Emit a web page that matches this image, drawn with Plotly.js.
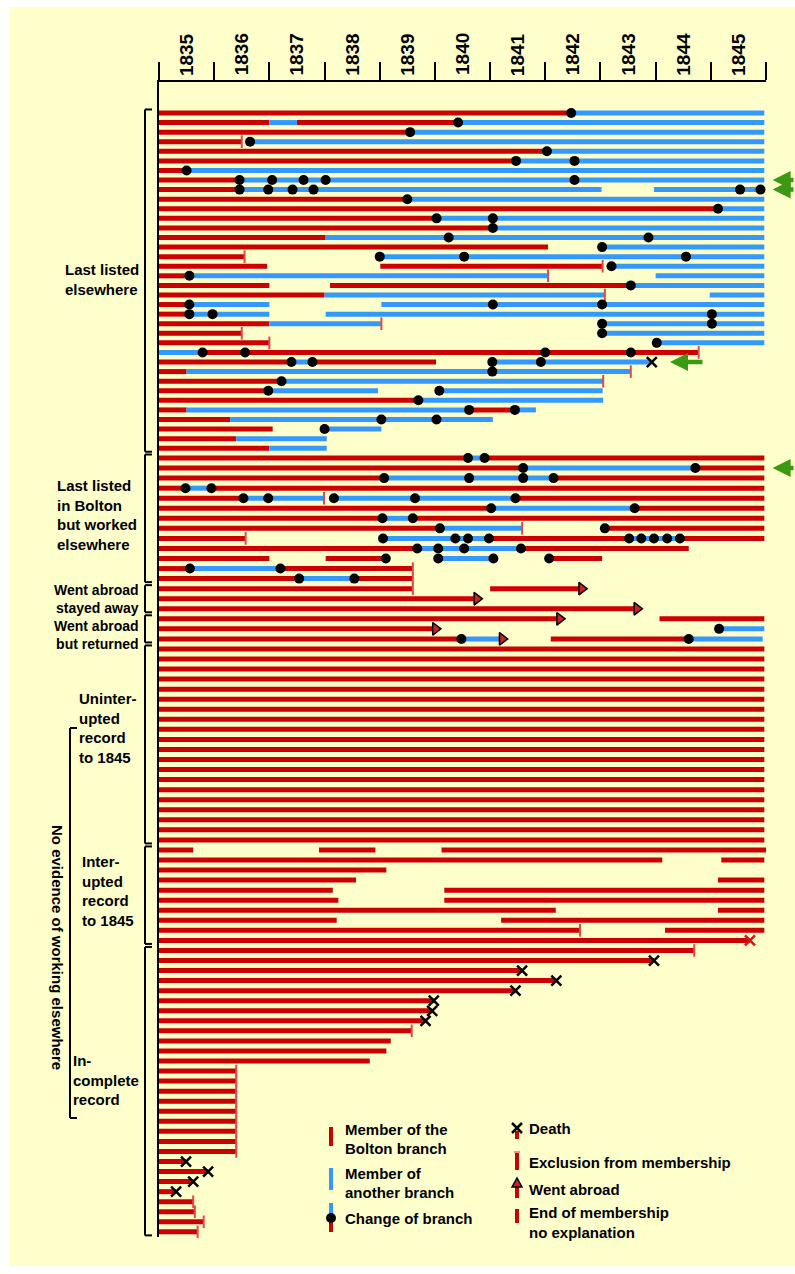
<!DOCTYPE html>
<html><head><meta charset="utf-8">
<script src="https://cdn.plot.ly/plotly-3.0.1.min.js"></script>
<style>html,body{margin:0;padding:0;background:#fff;}#chart{width:795px;height:1274px;}</style>
</head><body><div id="chart"></div>
<script>
// ---------------- DATA ----------------
const years = [1835,1836,1837,1838,1839,1840,1841,1842,1843,1844,1845];

// [row, start, end] membership of the Bolton branch
const bolton = [
[0,1835,1842.47],
[1,1835,1837.0],[1,1837.5,1840.42],
[2,1835,1839.55],
[3,1835,1836.5],
[4,1835,1842.03],
[5,1835,1841.47],
[6,1835,1835.5],
[7,1835,1836.46],
[8,1835,1836.46],
[9,1835,1839.5],
[10,1835,1845.13],
[11,1835,1840.03],
[12,1835,1841.05],
[13,1835,1838.02],
[14,1835,1842.05],
[15,1835,1836.55],
[16,1835,1836.96],[16,1839.01,1843.04],
[17,1835,1835.55],
[18,1835,1837.0],[18,1838.1,1843.55],
[19,1835,1838.0],
[20,1835,1835.55],
[21,1835,1835.55],
[22,1835,1837.0],
[23,1835,1836.5],
[24,1835,1837.0],
[25,1835.79,1844.78],
[26,1835,1837.4],[26,1837.78,1840.02],
[27,1835,1835.5],
[28,1835,1837.22],
[29,1835,1836.98],
[30,1835,1839.7],
[31,1835,1835.5],[31,1840.62,1841.45],
[32,1835,1836.29],
[33,1835,1837.06],
[34,1835,1836.4],
[35,1835,1837.0],
[36,1835,1840.6],[36,1840.9,1845.97],
[37,1835,1841.6],[37,1844.72,1845.97],
[38,1835,1839.08],[38,1842.15,1845.97],
[39,1835,1835.48],[39,1835.95,1845.97],
[40,1835,1836.53],[40,1841.46,1845.97],
[41,1835,1841.02],[41,1843.62,1845.97],
[42,1835,1839.05],[42,1839.6,1845.97],
[43,1835,1840.09],[43,1843.08,1845.97],
[44,1835,1836.57],[44,1840.98,1843.52],[44,1844.44,1845.97],
[45,1835,1839.68],[45,1841.56,1844.6],
[46,1835,1837.0],[46,1838.02,1839.11],[46,1842.07,1843.03],
[47,1835,1835.56],[47,1837.2,1839.6],
[48,1835,1837.54],[48,1838.54,1839.6],
[49,1835,1839.6],[49,1841.0,1842.62],
[50,1835,1840.72],
[51,1835,1843.62],
[52,1835,1842.22],[52,1844.07,1845.97],
[53,1835,1839.97],
[54,1835,1840.48],[54,1842.1,1844.6],
[55,1835,1845.97],[56,1835,1845.97],[57,1835,1845.97],[58,1835,1845.97],[59,1835,1845.97],
[60,1835,1845.97],[61,1835,1845.97],[62,1835,1845.97],[63,1835,1845.97],[64,1835,1845.97],
[65,1835,1845.97],[66,1835,1845.97],[67,1835,1845.97],[68,1835,1845.97],[69,1835,1845.97],
[70,1835,1845.97],[71,1835,1845.97],[72,1835,1845.97],[73,1835,1845.97],[74,1835,1845.97],
[75,1835,1835.62],[75,1837.9,1838.92],[75,1840.12,1846.0],
[76,1835,1844.12],[76,1845.19,1845.97],
[77,1835,1839.12],
[78,1835,1838.57],[78,1845.13,1845.97],
[79,1835,1838.15],[79,1840.17,1845.97],
[80,1835,1838.25],[80,1840.17,1845.97],
[81,1835,1842.19],[81,1845.13,1845.97],
[82,1835,1838.22],[82,1841.2,1845.97],
[83,1835,1842.63],[83,1844.17,1845.97],
[84,1835,1845.71],
[85,1835,1844.7],
[86,1835,1843.97],
[87,1835,1841.58],
[88,1835,1842.2],
[89,1835,1841.46],
[90,1835,1839.98],
[91,1835,1839.95],
[92,1835,1839.83],
[93,1835,1839.58],
[94,1835,1839.2],
[95,1835,1839.12],
[96,1835,1838.82],
[97,1835,1836.4],[98,1835,1836.4],[99,1835,1836.4],[100,1835,1836.4],[101,1835,1836.4],
[102,1835,1836.4],[103,1835,1836.4],[104,1835,1836.4],[105,1835,1836.4],
[106,1835,1835.49],
[107,1835,1835.89],
[108,1835,1835.62],
[109,1835,1835.31],
[110,1835,1835.62],
[111,1835,1835.65],
[112,1835,1835.81],
[113,1835,1835.7]
];

// [row, start, end] membership of another branch
const other = [
[0,1842.47,1845.97],
[1,1837.0,1837.5],[1,1840.42,1845.97],
[2,1839.55,1845.97],
[3,1836.65,1845.97],
[4,1842.03,1845.97],
[5,1841.47,1845.97],
[6,1835.5,1845.97],
[7,1836.46,1845.97],
[8,1836.46,1843.02],[8,1843.97,1845.9],
[9,1839.5,1845.97],
[10,1845.13,1845.97],
[11,1840.03,1845.97],
[12,1841.05,1845.97],
[13,1838.02,1845.97],
[14,1843.03,1845.97],
[15,1839.0,1845.97],
[16,1843.2,1845.97],
[17,1835.55,1842.05],[17,1844.0,1845.97],
[18,1843.55,1845.97],
[19,1838.0,1843.08],[19,1844.98,1845.97],
[20,1835.55,1837.0],[20,1839.03,1845.97],
[21,1835.55,1837.0],[21,1838.02,1845.97],
[22,1837.0,1839.03],[22,1843.03,1845.97],
[23,1843.03,1845.97],
[24,1844.02,1845.97],
[25,1835,1835.79],
[26,1837.4,1837.78],[26,1841.04,1843.93],
[27,1835.5,1843.55],
[28,1837.22,1843.05],
[29,1836.98,1838.97],[29,1840.08,1843.04],
[30,1839.7,1843.05],
[31,1835.5,1840.62],[31,1841.45,1841.83],
[32,1836.29,1841.05],
[33,1838.0,1839.03],
[34,1836.4,1838.04],
[35,1837.0,1838.04],
[36,1840.6,1840.9],
[37,1841.6,1844.72],
[38,1839.08,1842.15],
[39,1835.48,1835.95],
[40,1836.53,1837.99],[40,1838.17,1841.46],
[41,1841.02,1843.62],
[42,1839.05,1839.6],
[43,1840.09,1841.58],
[44,1839.06,1840.98],[44,1843.52,1844.44],
[45,1839.68,1841.56],
[46,1840.06,1841.06],
[47,1835.56,1837.2],
[48,1837.54,1838.54],
[53,1845.15,1845.97],
[54,1840.48,1841.2],[54,1844.6,1845.94]
];

// [row, year] change of branch
const changes = [
[0,1842.47],[1,1840.42],[2,1839.55],[3,1836.65],[4,1842.03],
[5,1841.47],[5,1842.53],[6,1835.5],
[7,1836.46],[7,1837.05],[7,1837.62],[7,1838.02],[7,1842.53],
[8,1836.46],[8,1836.98],[8,1837.42],[8,1837.8],[8,1845.53],[8,1845.9],
[9,1839.5],[10,1845.13],[11,1840.03],[11,1841.05],[12,1841.05],
[13,1840.25],[13,1843.87],[14,1843.03],
[15,1839.0],[15,1840.53],[15,1844.55],[16,1843.2],[17,1835.55],[18,1843.55],
[20,1835.55],[20,1841.05],[20,1843.03],
[21,1835.55],[21,1835.97],[21,1845.02],
[22,1843.03],[22,1845.02],[23,1843.03],[24,1844.02],
[25,1835.79],[25,1836.56],[25,1842.0],[25,1843.55],
[26,1837.4],[26,1837.78],[26,1841.04],[26,1841.92],
[27,1841.04],[28,1837.22],[29,1836.98],[29,1840.08],[30,1839.7],
[31,1840.62],[31,1841.45],[32,1839.03],[32,1840.03],[33,1838.0],
[36,1840.6],[36,1840.9],[37,1841.6],[37,1844.72],
[38,1839.08],[38,1840.62],[38,1841.6],[38,1842.15],
[39,1835.48],[39,1835.95],
[40,1836.53],[40,1836.98],[40,1838.17],[40,1839.64],[40,1841.46],
[41,1841.02],[41,1843.62],[42,1839.05],[42,1839.6],[43,1840.09],[43,1843.08],
[44,1839.06],[44,1840.37],[44,1840.6],[44,1840.98],[44,1843.52],[44,1843.74],[44,1843.97],[44,1844.21],[44,1844.44],
[45,1839.68],[45,1840.06],[45,1840.53],[45,1841.56],
[46,1839.11],[46,1840.06],[46,1841.06],[46,1842.07],
[47,1835.56],[47,1837.2],[48,1837.54],[48,1838.54],
[53,1845.15],[54,1840.48],[54,1844.6]
];

// [row, year] deaths
const deaths = [
[26,1843.93],[86,1843.97],[87,1841.58],[88,1842.2],[89,1841.46],
[90,1839.98],[91,1839.95],[92,1839.83],
[106,1835.49],[107,1835.89],[108,1835.62],[109,1835.31]
];
const deathsRed = [[84,1845.71]];

// [row, year] went abroad
const abroad = [[49,1842.66],[50,1840.76],[51,1843.66],[52,1842.26],[53,1840.01],[54,1841.22]];

// [row, year] exclusion from membership
const exclusions = [
[3,1836.5],[15,1836.55],[16,1843.04],[17,1842.05],[19,1843.08],[22,1839.03],
[23,1836.5],[24,1837.0],[25,1844.78],[27,1843.55],[28,1843.05],[40,1837.99],
[43,1841.58],[44,1836.57],[47,1839.6],[48,1839.6],[49,1839.6],[83,1842.63],
[85,1844.7],[93,1839.58],
[97,1836.4],[98,1836.4],[99,1836.4],[100,1836.4],[101,1836.4],[102,1836.4],[103,1836.4],[104,1836.4],[105,1836.4],
[110,1835.62],[111,1835.65],[112,1835.81],[113,1835.7]
];

// green pointer arrows: row and year of the arrow tip
const arrowRows = [7, 8, 26, 37];
const arrowTips = [1846.12, 1846.12, 1844.26, 1846.12];

// groups (first and last row)
const groupFirst = [0, 36, 49, 52, 55, 75, 85];
const groupLast  = [35, 48, 51, 54, 74, 84, 113];

// ---------------- LAYOUT HELPERS ----------------
const W = 795, H = 1274, PL = 159, PR = 766, PT = 82, PB = 1237;
const RED = '#cc0000', BLUE = '#3399ff', FONT = 'Liberation Sans, Arial, sans-serif';
function rowPos(r){ return r < 36 ? r * 0.953 : 34.33 + (r - 36); }
const yTop = (PT - 113) / 10.05, yBot = (PB - 113) / 10.05;
function pX(px){ return (px - PL) / (PR - PL); }
function pY(py){ return (PB - py) / (PB - PT); }
function yearPaper(yr){ return (yr - 1835) / 11; }

function segTrace(segs, color){
  const x = [], y = [];
  segs.forEach(s => { x.push(s[1], s[2], null); y.push(rowPos(s[0]), rowPos(s[0]), null); });
  return {type:'scatter', mode:'lines', x, y, line:{color, width:5}, hoverinfo:'skip', showlegend:false, connectgaps:false};
}
function ptTrace(pts, marker){
  return {type:'scatter', mode:'markers', x: pts.map(p=>p[1]), y: pts.map(p=>rowPos(p[0])), marker, hoverinfo:'skip', showlegend:false, cliponaxis:false};
}

const traces = [
  segTrace(bolton, RED),
  segTrace(other, BLUE),
  ptTrace(exclusions, {symbol:'line-ns-open', size:9, color:'#e04a4a', line:{color:'#e04a4a', width:2}}),
  ptTrace(changes, {symbol:'circle', size:10, color:'#000'}),
  ptTrace(deaths, {symbol:'x-thin-open', size:10, color:'#000', line:{color:'#000', width:2.5}}),
  ptTrace(deathsRed, {symbol:'x-thin-open', size:10, color:'#dd1111', line:{color:'#dd1111', width:2.5}}),
  ptTrace(abroad, {symbol:'triangle-right', size:11, color:'#cc2222', line:{color:'#000', width:1.5}})
];

const shapes = [];
const annotations = [];
// background
shapes.push({type:'rect', xref:'paper', yref:'paper', x0:pX(10), x1:pX(800), y0:pY(1266), y1:pY(7), fillcolor:'#ffffcc', line:{width:0}, layer:'below'});

function lineShape(x0,y0,x1,y1,color,width){
  shapes.push({type:'line', xref:'paper', yref:'paper', x0:pX(x0), y0:pY(y0), x1:pX(x1), y1:pY(y1), line:{color, width}});
}
// group brackets
for (let g = 0; g < groupFirst.length; g++){
  const a = rowPos(groupFirst[g]) - 0.35, b = rowPos(groupLast[g]) + 0.35;
  shapes.push({type:'line', xref:'paper', yref:'y', x0:pX(145), x1:pX(145), y0:a, y1:b, line:{color:'#000', width:2}});
  shapes.push({type:'line', xref:'paper', yref:'y', x0:pX(145), x1:pX(152), y0:a, y1:a, line:{color:'#000', width:2}});
  shapes.push({type:'line', xref:'paper', yref:'y', x0:pX(145), x1:pX(152), y0:b, y1:b, line:{color:'#000', width:2}});
}
// inner bracket (no evidence)
lineShape(70,728,70,1118,'#000',2);
lineShape(70,728,77,728,'#000',2);
lineShape(70,1118,77,1118,'#000',2);

function label(text, px, py, xanchor, size, extra){
  annotations.push(Object.assign({text, xref:'paper', yref:'paper', x:pX(px), y:pY(py), xanchor, yanchor:'middle', showarrow:false, font:{family:FONT, size:size||15, color:'#000'}, align:xanchor==='right'?'right':'left'}, extra||{}));
}
// year labels
years.forEach(y => {
  annotations.push({text:'<b>'+y+'</b>', xref:'x', yref:'paper', x:y+0.5, y:pY(54.5), textangle:-90, showarrow:false, xanchor:'center', yanchor:'middle', font:{family:FONT, size:19, color:'#000'}});
});
// group labels
label('<b>Last listed<br>elsewhere</b>', 63, 280, 'left');
label('<b>Last listed<br>in Bolton<br>but worked<br>elsewhere</b>', 55, 515, 'left');
label('<b>Went abroad<br>stayed away</b>', 141, 599, 'right', 14);
label('<b>Went abroad<br>but returned</b>', 141, 635, 'right', 14);
label('<b>Uninter-<br>upted<br>record<br>to 1845</b>', 77, 728, 'left');
label('<b>Inter-<br>upted<br>record<br>to 1845</b>', 80, 891, 'left');
label('<b>In-<br>complete<br>record</b>', 71, 1080, 'left');
annotations.push({text:'<b>No evidence of working elsewhere</b>', xref:'paper', yref:'paper', x:pX(58), y:pY(947), textangle:90, showarrow:false, xanchor:'center', yanchor:'middle', font:{family:FONT, size:15, color:'#000'}});

// green arrows
arrowRows.forEach((r,i) => {
  annotations.push({text:'', x:yearPaper(arrowTips[i]), y:rowPos(r), xref:'paper', yref:'y', ax:34, ay:0, showarrow:true, arrowhead:2, arrowsize:0.8, arrowwidth:4.5, arrowcolor:'#3c9a12'});
});

// legend
lineShape(331,1127,331,1146,RED,4);
lineShape(331,1168,331,1190,BLUE,4);
lineShape(331,1203,331,1216,BLUE,4);
lineShape(331,1218,331,1232,RED,4);
shapes.push({type:'circle', xref:'paper', yref:'paper', x0:pX(326), x1:pX(336), y0:pY(1223), y1:pY(1213), fillcolor:'#000', line:{color:'#000', width:0}});
lineShape(517,1131,517,1139,RED,4);
lineShape(512,1123,522,1133,'#000',2.5);
lineShape(512,1133,522,1123,'#000',2.5);
lineShape(517,1153,517,1170,RED,4);
lineShape(514,1152,520,1152,'#e07070',1.5);
lineShape(517,1186,517,1198,RED,4);
shapes.push({type:'path', xref:'paper', yref:'paper', path:'M'+pX(512)+','+pY(1187)+' L'+pX(517)+','+pY(1178)+' L'+pX(522)+','+pY(1187)+' Z', fillcolor:'#cc2222', line:{color:'#000', width:1.5}});
lineShape(517,1209,517,1223,RED,4);
label('<b>Member of the</b>', 343, 1129, 'left');
label('<b>Bolton branch</b>', 343, 1148, 'left');
label('<b>Member of</b>', 343, 1173, 'left');
label('<b>another branch</b>', 343, 1192, 'left');
label('<b>Change of branch</b>', 343, 1218, 'left');
label('<b>Death</b>', 527, 1128, 'left');
label('<b>Exclusion from membership</b>', 527, 1162, 'left');
label('<b>Went abroad</b>', 527, 1189, 'left');
label('<b>End of membership</b>', 527, 1212, 'left');
label('<b>no explanation</b>', 527, 1232, 'left');

const layout = {
  width: W, height: H,
  margin: {l: PL, r: W - PR, t: PT, b: H - PB, pad: 0},
  paper_bgcolor: '#ffffff', plot_bgcolor: 'rgba(0,0,0,0)',
  showlegend: false,
  xaxis: {range:[1835,1846], side:'top', showline:true, linecolor:'#000', linewidth:2, ticks:'outside', ticklen:18, tickwidth:2, tickcolor:'#000', tickvals:[1835,1836,1837,1838,1839,1840,1841,1842,1843,1844,1845,1846], showticklabels:false, showgrid:false, zeroline:false, fixedrange:true},
  yaxis: {range:[yBot, yTop], showline:true, linecolor:'#000', linewidth:2, ticks:'', showticklabels:false, showgrid:false, zeroline:false, fixedrange:true},
  shapes, annotations
};
Plotly.newPlot('chart', traces, layout, {displayModeBar:false, staticPlot:true});
</script></body></html>
